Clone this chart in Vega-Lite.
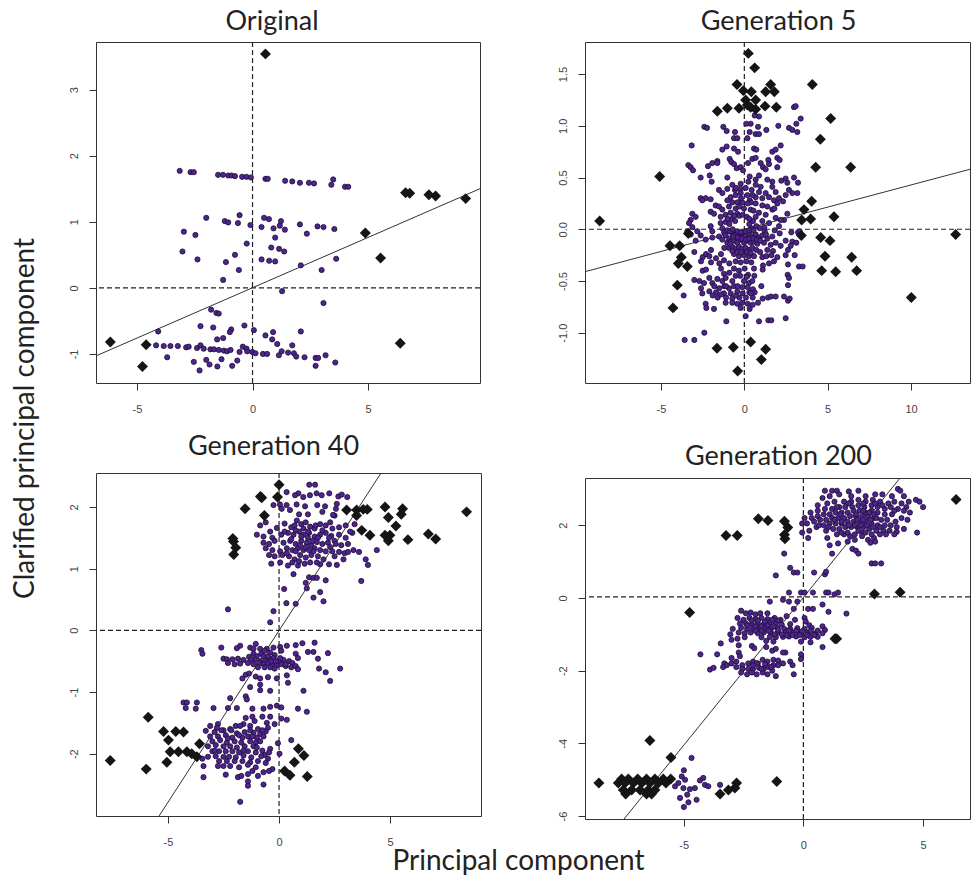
{"$schema":"https://vega.github.io/schema/vega-lite/v6.json","padding":{"left":10,"top":7,"right":0,"bottom":0},"background":"white","title":{"text":"Principal component","orient":"bottom","anchor":"start","dx":382,"offset":-3,"fontSize":28},"config":{"locale":{"number":{"decimal":".","thousands":",","grouping":[3],"currency":["$",""],"minus":"-"}},"view":{"stroke":"#333","strokeWidth":1},"axis":{"grid":false,"domain":false,"tickColor":"#333","tickSize":7,"labelColor":"#444","labelFont":"Liberation Sans","labelFontSize":11,"titleFont":"Lato","titleFontWeight":"normal","titleFontSize":28,"titleColor":"#222"},"title":{"font":"Lato","fontSize":27,"fontWeight":"normal","color":"#222"}},
"datasets":{
"p1":[{"x":-3.15,"y":1.77},{"x":-2.68,"y":1.75},{"x":-2.54,"y":1.75},{"x":-1.49,"y":1.71},{"x":-1.28,"y":1.71},{"x":-1.05,"y":1.7},{"x":-0.91,"y":1.7},{"x":-0.76,"y":1.69},{"x":-0.45,"y":1.68},{"x":-0.26,"y":1.68},{"x":-0.07,"y":1.67},{"x":0.56,"y":1.65},{"x":0.66,"y":1.65},{"x":1.41,"y":1.62},{"x":1.72,"y":1.61},{"x":2.05,"y":1.59},{"x":2.44,"y":1.59},{"x":2.66,"y":1.58},{"x":3.41,"y":1.56},{"x":3.49,"y":1.64},{"x":4,"y":1.53},{"x":4.14,"y":1.53},{"x":-0.56,"y":1.1},{"x":-2,"y":1.06},{"x":-1.2,"y":1.01},{"x":-1.05,"y":0.99},{"x":-0.63,"y":0.98},{"x":-0.09,"y":0.95},{"x":0.5,"y":1.06},{"x":0.71,"y":1.04},{"x":1.23,"y":1.01},{"x":1.18,"y":0.94},{"x":0.39,"y":0.92},{"x":0.91,"y":0.9},{"x":1.4,"y":0.88},{"x":2.05,"y":0.96},{"x":2.81,"y":0.93},{"x":3.07,"y":0.92},{"x":3.54,"y":0.89},{"x":2.35,"y":0.82},{"x":-2.97,"y":0.85},{"x":-2.47,"y":0.8},{"x":0.98,"y":0.76},{"x":-0.25,"y":0.67},{"x":0.81,"y":0.61},{"x":1.15,"y":0.59},{"x":1.37,"y":0.55},{"x":-3.03,"y":0.55},{"x":-0.76,"y":0.5},{"x":-2.38,"y":0.43},{"x":-1.15,"y":0.39},{"x":0.39,"y":0.43},{"x":0.72,"y":0.41},{"x":0.98,"y":0.4},{"x":3.62,"y":0.44},{"x":2.09,"y":0.34},{"x":2.99,"y":0.27},{"x":-0.59,"y":0.27},{"x":-1.27,"y":0.12},{"x":1.28,"y":-0.05},{"x":3.07,"y":-0.23},{"x":-1.79,"y":-0.33},{"x":-1.56,"y":-0.38},{"x":-1.46,"y":-0.39},{"x":-2.25,"y":-0.58},{"x":-1.7,"y":-0.6},{"x":-0.35,"y":-0.57},{"x":-0.92,"y":-0.63},{"x":-0.98,"y":-0.67},{"x":-4.08,"y":-0.66},{"x":0.06,"y":-0.64},{"x":0.89,"y":-0.67},{"x":0.56,"y":-0.72},{"x":2.09,"y":-0.66},{"x":0.85,"y":-0.78},{"x":-1.27,"y":-0.76},{"x":-1.53,"y":-0.78},{"x":1.07,"y":-0.85},{"x":1.72,"y":-0.87},{"x":-4.17,"y":-0.87},{"x":-3.84,"y":-0.88},{"x":-3.55,"y":-0.88},{"x":-3.23,"y":-0.88},{"x":-2.87,"y":-0.9},{"x":-2.76,"y":-0.89},{"x":-2.4,"y":-0.91},{"x":-2.25,"y":-0.87},{"x":-2.11,"y":-0.92},{"x":-1.82,"y":-0.93},{"x":-1.67,"y":-0.93},{"x":-1.46,"y":-0.94},{"x":-1.24,"y":-0.95},{"x":-1.1,"y":-0.96},{"x":-0.95,"y":-0.94},{"x":-0.56,"y":-0.97},{"x":-0.42,"y":-0.89},{"x":-0.26,"y":-0.92},{"x":-0.23,"y":-0.96},{"x":-0.01,"y":-0.97},{"x":0.13,"y":-0.99},{"x":0.45,"y":-1},{"x":0.63,"y":-1},{"x":1.14,"y":-1.02},{"x":1.26,"y":-0.96},{"x":1.54,"y":-0.98},{"x":1.79,"y":-0.99},{"x":1.89,"y":-1.04},{"x":2.25,"y":-1.05},{"x":2.73,"y":-1.06},{"x":2.84,"y":-1.06},{"x":3.16,"y":-1.02},{"x":-3.69,"y":-1.05},{"x":-2.54,"y":-1.12},{"x":-2,"y":-1.09},{"x":-1.86,"y":-1.16},{"x":-1.34,"y":-1.08},{"x":-1.52,"y":-1.19},{"x":-0.88,"y":-1.18},{"x":-0.66,"y":-1.1},{"x":-2.29,"y":-1.25},{"x":2.73,"y":-1.18},{"x":3.58,"y":-1.13}],
"d1":[{"x":0.56,"y":3.54},{"x":6.62,"y":1.44},{"x":6.8,"y":1.43},{"x":7.63,"y":1.41},{"x":7.92,"y":1.39},{"x":9.22,"y":1.35},{"x":4.88,"y":0.83},{"x":5.54,"y":0.45},{"x":6.39,"y":-0.84},{"x":-6.15,"y":-0.82},{"x":-4.6,"y":-0.86},{"x":-4.76,"y":-1.19}],
"l1":[{"x":-6.77,"y":-1.03},{"x":9.84,"y":1.5}],
"p2":[{"x":-2.4,"y":0.99},{"x":-2.24,"y":0.98},{"x":-1.26,"y":0.99},{"x":-1.06,"y":0.95},{"x":-0.56,"y":0.94},{"x":-0.62,"y":0.88},{"x":-0.42,"y":0.88},{"x":0.18,"y":0.88},{"x":0.32,"y":0.94},{"x":0.38,"y":1.02},{"x":0.82,"y":0.99},{"x":0.68,"y":0.92},{"x":0.88,"y":0.92},{"x":1.32,"y":0.96},{"x":2.04,"y":1},{"x":2.68,"y":0.98},{"x":2.88,"y":0.96},{"x":3.18,"y":0.94},{"x":3.12,"y":1.02},{"x":3.38,"y":1.07},{"x":2.98,"y":1.18},{"x":3.08,"y":1.19},{"x":0.88,"y":1.09},{"x":-3.16,"y":0.81},{"x":-1.32,"y":0.77},{"x":-1.06,"y":0.8},{"x":-0.62,"y":0.78},{"x":-0.38,"y":0.75},{"x":0.58,"y":0.78},{"x":0.72,"y":0.77},{"x":1.68,"y":0.75},{"x":1.88,"y":0.77},{"x":2.18,"y":0.81},{"x":-3.36,"y":0.62},{"x":-3.22,"y":0.6},{"x":-3.08,"y":0.57},{"x":-2.18,"y":0.61},{"x":-1.92,"y":0.64},{"x":-1.62,"y":0.66},{"x":-1.62,"y":0.64},{"x":-0.88,"y":0.68},{"x":-0.78,"y":0.65},{"x":-0.62,"y":0.63},{"x":-0.46,"y":0.59},{"x":-0.22,"y":0.6},{"x":-0.08,"y":0.57},{"x":0.22,"y":0.64},{"x":0.48,"y":0.68},{"x":0.68,"y":0.69},{"x":0.98,"y":0.64},{"x":1.12,"y":0.6},{"x":1.44,"y":0.67},{"x":1.48,"y":0.63},{"x":1.98,"y":0.69},{"x":2.12,"y":0.67},{"x":1.28,"y":0.58},{"x":1.98,"y":0.6},{"x":-2.62,"y":0.5},{"x":-2.08,"y":0.52},{"x":-1.96,"y":0.46},{"x":-1.02,"y":0.5},{"x":0.32,"y":0.51},{"x":0.88,"y":0.52},{"x":0.68,"y":0.48},{"x":1.38,"y":0.48},{"x":1.68,"y":0.46},{"x":2.22,"y":0.47},{"x":2.48,"y":0.49},{"x":2.58,"y":0.45},{"x":2.98,"y":0.5},{"x":3.22,"y":0.45},{"x":-0.72,"y":0.43},{"x":-0.22,"y":0.44},{"x":0.24,"y":0.46},{"x":0.68,"y":0.43},{"x":0.98,"y":0.41},{"x":1.68,"y":0.41},{"x":-0.56,"y":0.38},{"x":-1.52,"y":0.38},{"x":-1.02,"y":0.39},{"x":-0.22,"y":0.39},{"x":0.08,"y":0.4},{"x":0.44,"y":0.38},{"x":0.88,"y":0.36},{"x":1.28,"y":0.35},{"x":1.88,"y":0.36},{"x":2.68,"y":0.38},{"x":2.88,"y":0.35},{"x":3.18,"y":0.35},{"x":-2.62,"y":0.3},{"x":-2.32,"y":0.3},{"x":-2.02,"y":0.29},{"x":-1.32,"y":0.35},{"x":-0.82,"y":0.31},{"x":-0.52,"y":0.33},{"x":-0.22,"y":0.35},{"x":0.18,"y":0.33},{"x":0.68,"y":0.31},{"x":1.08,"y":0.3},{"x":1.48,"y":0.31},{"x":1.78,"y":0.28},{"x":2.08,"y":0.3},{"x":2.48,"y":0.33},{"x":2.32,"y":0.27},{"x":1.98,"y":0.25},{"x":-2.52,"y":0.28},{"x":-1.72,"y":0.23},{"x":-1.52,"y":0.22},{"x":-1.02,"y":0.28},{"x":-0.72,"y":0.26},{"x":-0.42,"y":0.26},{"x":-0.12,"y":0.26},{"x":0.32,"y":0.28},{"x":0.68,"y":0.25},{"x":1.08,"y":0.23},{"x":1.38,"y":0.22},{"x":1.68,"y":0.19},{"x":2.58,"y":0.15},{"x":-3.12,"y":0.15},{"x":-3.22,"y":0.09},{"x":-3.32,"y":0.06},{"x":-2.92,"y":0.12},{"x":-2.02,"y":0.17},{"x":-1.82,"y":0.15},{"x":-1.32,"y":0.19},{"x":-0.92,"y":0.22},{"x":-0.52,"y":0.2},{"x":-0.02,"y":0.2},{"x":0.38,"y":0.19},{"x":0.88,"y":0.16},{"x":1.28,"y":0.14},{"x":1.88,"y":0.11},{"x":2.38,"y":0.09},{"x":-1.42,"y":0.12},{"x":-1.12,"y":0.14},{"x":-0.82,"y":0.16},{"x":-0.42,"y":0.15},{"x":0.68,"y":0.12},{"x":1.08,"y":0.08},{"x":1.48,"y":0.06},{"x":2.08,"y":0.03},{"x":2.18,"y":0.09},{"x":-3.12,"y":0.02},{"x":-3.42,"y":-0.02},{"x":-3.22,"y":-0.05},{"x":-2.82,"y":-0.02},{"x":-2.62,"y":-0.06},{"x":-2.02,"y":0.03},{"x":-1.92,"y":-0.02},{"x":-1.42,"y":0.06},{"x":-1.32,"y":0.01},{"x":-1.22,"y":-0.03},{"x":-1.12,"y":0.07},{"x":-1.02,"y":-0.01},{"x":0.52,"y":0.08},{"x":0.72,"y":0.03},{"x":0.42,"y":0.01},{"x":0.92,"y":0.01},{"x":1.22,"y":-0.02},{"x":1.82,"y":-0.01},{"x":2.12,"y":-0.04},{"x":2.82,"y":-0.03},{"x":3.22,"y":-0.03},{"x":3.32,"y":-0.02},{"x":-2.32,"y":-0.1},{"x":-1.92,"y":-0.08},{"x":-1.52,"y":-0.07},{"x":-1.32,"y":-0.1},{"x":-1.12,"y":-0.06},{"x":-0.92,"y":-0.09},{"x":-0.72,"y":-0.04},{"x":-0.52,"y":-0.05},{"x":-0.32,"y":-0.07},{"x":-0.12,"y":-0.04},{"x":0.08,"y":-0.06},{"x":0.28,"y":-0.04},{"x":0.48,"y":-0.07},{"x":0.68,"y":-0.05},{"x":0.88,"y":-0.08},{"x":1.08,"y":-0.06},{"x":1.38,"y":-0.09},{"x":1.68,"y":-0.07},{"x":2.48,"y":-0.11},{"x":2.88,"y":-0.12},{"x":3.12,"y":-0.13},{"x":-2.92,"y":-0.11},{"x":-1.02,"y":-0.13},{"x":-0.82,"y":-0.12},{"x":-0.62,"y":-0.11},{"x":-0.42,"y":-0.13},{"x":-0.22,"y":-0.1},{"x":-0.02,"y":-0.13},{"x":0.18,"y":-0.11},{"x":0.38,"y":-0.13},{"x":0.58,"y":-0.12},{"x":0.78,"y":-0.14},{"x":1.18,"y":-0.13},{"x":1.58,"y":-0.15},{"x":1.88,"y":-0.13},{"x":2.18,"y":-0.16},{"x":2.78,"y":-0.16},{"x":-0.92,"y":-0.18},{"x":-0.72,"y":-0.17},{"x":-0.52,"y":-0.19},{"x":-0.32,"y":-0.17},{"x":-0.12,"y":-0.19},{"x":0.08,"y":-0.18},{"x":0.28,"y":-0.2},{"x":0.48,"y":-0.18},{"x":0.72,"y":-0.2},{"x":1.38,"y":-0.2},{"x":1.72,"y":-0.21},{"x":2.62,"y":-0.2},{"x":3.02,"y":-0.25},{"x":-3,"y":-0.22},{"x":-2.5,"y":-0.27},{"x":-2.3,"y":-0.24},{"x":-2.1,"y":-0.26},{"x":-1.7,"y":-0.28},{"x":-1.4,"y":-0.24},{"x":-0.62,"y":-0.24},{"x":-0.32,"y":-0.26},{"x":-0.02,"y":-0.25},{"x":0.28,"y":-0.26},{"x":0.58,"y":-0.26},{"x":1.08,"y":-0.27},{"x":1.32,"y":-0.26},{"x":1.62,"y":-0.25},{"x":1.98,"y":-0.27},{"x":2.48,"y":-0.25},{"x":-2.6,"y":-0.31},{"x":-2,"y":-0.32},{"x":-1.5,"y":-0.33},{"x":-1.22,"y":-0.3},{"x":-0.9,"y":-0.33},{"x":-0.52,"y":-0.31},{"x":-0.22,"y":-0.32},{"x":0.12,"y":-0.31},{"x":0.42,"y":-0.32},{"x":1.12,"y":-0.35},{"x":1.48,"y":-0.33},{"x":1.78,"y":-0.31},{"x":2.62,"y":-0.34},{"x":3.28,"y":-0.36},{"x":3.5,"y":-0.36},{"x":-2.5,"y":-0.4},{"x":-2.3,"y":-0.39},{"x":-1.4,"y":-0.38},{"x":-0.62,"y":-0.38},{"x":-0.32,"y":-0.4},{"x":0.02,"y":-0.38},{"x":0.58,"y":-0.38},{"x":1.1,"y":-0.39},{"x":2.6,"y":-0.44},{"x":2.68,"y":-0.47},{"x":-1.22,"y":-0.43},{"x":-0.9,"y":-0.42},{"x":-0.52,"y":-0.45},{"x":0.22,"y":-0.44},{"x":0.6,"y":-0.45},{"x":-2.1,"y":-0.47},{"x":-3,"y":-0.49},{"x":-2.7,"y":-0.5},{"x":-2.42,"y":-0.52},{"x":-1.92,"y":-0.52},{"x":-1.62,"y":-0.48},{"x":-1.32,"y":-0.5},{"x":-1.12,"y":-0.47},{"x":-0.72,"y":-0.5},{"x":-0.02,"y":-0.5},{"x":0.28,"y":-0.52},{"x":0.48,"y":-0.5},{"x":2.62,"y":-0.54},{"x":-2.6,"y":-0.57},{"x":-1.8,"y":-0.55},{"x":-1.5,"y":-0.57},{"x":-1.2,"y":-0.55},{"x":-0.92,"y":-0.57},{"x":-0.62,"y":-0.55},{"x":-0.12,"y":-0.56},{"x":0.2,"y":-0.56},{"x":0.52,"y":-0.58},{"x":1.02,"y":-0.55},{"x":-2.52,"y":-0.62},{"x":-2.1,"y":-0.6},{"x":-1.7,"y":-0.61},{"x":-1.22,"y":-0.62},{"x":-0.82,"y":-0.62},{"x":-0.42,"y":-0.6},{"x":-0.1,"y":-0.62},{"x":0.3,"y":-0.61},{"x":0.62,"y":-0.61},{"x":1.42,"y":-0.66},{"x":1.6,"y":-0.65},{"x":1.88,"y":-0.65},{"x":2.38,"y":-0.65},{"x":-3.64,"y":-0.64},{"x":-1.6,"y":-0.66},{"x":-1.1,"y":-0.66},{"x":-0.72,"y":-0.67},{"x":-0.3,"y":-0.66},{"x":0.1,"y":-0.66},{"x":0.5,"y":-0.66},{"x":1.1,"y":-0.67},{"x":2.62,"y":-0.69},{"x":2.72,"y":-0.67},{"x":-2.32,"y":-0.72},{"x":-2.28,"y":-0.76},{"x":-1.82,"y":-0.77},{"x":-1.12,"y":-0.71},{"x":-0.72,"y":-0.71},{"x":-0.42,"y":-0.72},{"x":-0.12,"y":-0.71},{"x":0.2,"y":-0.72},{"x":0.5,"y":-0.73},{"x":0.82,"y":-0.71},{"x":-0.22,"y":-0.76},{"x":0.32,"y":-0.77},{"x":0.08,"y":-0.84},{"x":-1.08,"y":-0.89},{"x":0.88,"y":-0.89},{"x":1.44,"y":-0.88},{"x":1.62,"y":-0.88},{"x":2.48,"y":-0.86},{"x":-2.4,"y":-1},{"x":-3.58,"y":-1.07},{"x":-3,"y":-1.07},{"x":0.62,"y":1.1},{"x":0.12,"y":1.02},{"x":-0.9,"y":0.05},{"x":-0.75,"y":0.1},{"x":-0.55,"y":0.08},{"x":-1,"y":0.1},{"x":-0.6,"y":0.13},{"x":-0.3,"y":0.13},{"x":-0.1,"y":0.14},{"x":0.15,"y":0.12},{"x":0.3,"y":0.1},{"x":0.3,"y":0.05},{"x":-0.85,"y":-0.02},{"x":-0.7,"y":0},{"x":-0.85,"y":-0.14},{"x":-0.65,"y":-0.07},{"x":-0.4,"y":-0.02},{"x":-0.2,"y":-0.03},{"x":0.1,"y":-0.02},{"x":0.3,"y":-0.01},{"x":0.55,"y":-0.01},{"x":-0.4,"y":-0.08},{"x":-0.15,"y":-0.09},{"x":0.1,"y":-0.1},{"x":0.3,"y":-0.09},{"x":0.55,"y":-0.09},{"x":0.75,"y":-0.1},{"x":0.95,"y":-0.11},{"x":1.3,"y":-0.05},{"x":-0.72,"y":-0.21},{"x":-0.42,"y":-0.22},{"x":-0.2,"y":-0.22},{"x":0.15,"y":-0.22},{"x":0.38,"y":-0.23},{"x":0.95,"y":-0.22},{"x":-0.2,"y":0.3},{"x":0.4,"y":0.26},{"x":0.5,"y":0.33},{"x":-0.5,"y":0.4},{"x":0.2,"y":0.25},{"x":0.55,"y":0.18},{"x":-0.3,"y":0.22},{"x":-2,"y":-0.2},{"x":-1.2,"y":-0.18},{"x":1.2,"y":0.02},{"x":1.8,"y":0.2},{"x":-1.1,"y":-0.55},{"x":-0.4,"y":-0.55},{"x":-0.5,"y":-0.64},{"x":-1.4,"y":-0.63},{"x":-1.9,"y":-0.64},{"x":0.15,"y":-0.46},{"x":0.4,"y":-0.62},{"x":-0.25,"y":-0.45}],
"d2":[{"x":0.24,"y":1.7},{"x":0.62,"y":1.56},{"x":-0.44,"y":1.4},{"x":1.58,"y":1.4},{"x":4.08,"y":1.4},{"x":-0.06,"y":1.34},{"x":0.42,"y":1.33},{"x":1.28,"y":1.33},{"x":1.8,"y":1.33},{"x":0.08,"y":1.25},{"x":0.68,"y":1.25},{"x":0.18,"y":1.2},{"x":0.38,"y":1.18},{"x":0.68,"y":1.16},{"x":1.24,"y":1.19},{"x":1.92,"y":1.18},{"x":-1.02,"y":1.17},{"x":-1.62,"y":1.14},{"x":-0.32,"y":1.17},{"x":5.18,"y":1.07},{"x":4.56,"y":0.87},{"x":4.28,"y":0.6},{"x":6.38,"y":0.6},{"x":-5.08,"y":0.51},{"x":4.04,"y":0.27},{"x":3.58,"y":0.19},{"x":-8.68,"y":0.08},{"x":5.38,"y":0.12},{"x":3.98,"y":0.1},{"x":3.44,"y":0.09},{"x":-3.36,"y":-0.04},{"x":3.42,"y":-0.06},{"x":4.58,"y":-0.08},{"x":5.14,"y":-0.11},{"x":12.68,"y":-0.05},{"x":-4.46,"y":-0.16},{"x":-3.88,"y":-0.16},{"x":-3.78,"y":-0.27},{"x":-3.96,"y":-0.33},{"x":-3.42,"y":-0.36},{"x":4.84,"y":-0.26},{"x":6.44,"y":-0.27},{"x":4.64,"y":-0.4},{"x":5.48,"y":-0.41},{"x":6.74,"y":-0.4},{"x":-4.02,"y":-0.54},{"x":-4.28,"y":-0.76},{"x":10.02,"y":-0.66},{"x":0.38,"y":-1.09},{"x":-1.64,"y":-1.15},{"x":-0.66,"y":-1.14},{"x":1.28,"y":-1.16},{"x":1.02,"y":-1.26},{"x":-0.4,"y":-1.37}],
"l2":[{"x":-9.56,"y":-0.41},{"x":13.54,"y":0.58}],
"p3":[{"x":1.36,"y":2.36},{"x":1.62,"y":2.36},{"x":0.34,"y":2.24},{"x":0.87,"y":2.22},{"x":0.72,"y":2.19},{"x":1.09,"y":2.16},{"x":1.39,"y":2.19},{"x":1.69,"y":2.22},{"x":1.92,"y":2.19},{"x":2.26,"y":2.22},{"x":2.67,"y":2.17},{"x":2.82,"y":2.2},{"x":3.07,"y":2.16},{"x":-0.25,"y":2.03},{"x":0.04,"y":2.04},{"x":0.34,"y":2.03},{"x":0.79,"y":2.04},{"x":1.17,"y":2.01},{"x":1.72,"y":2.03},{"x":2.07,"y":2.01},{"x":2.6,"y":2.05},{"x":2.56,"y":1.97},{"x":0.49,"y":1.95},{"x":0.12,"y":1.97},{"x":0.9,"y":1.88},{"x":1.3,"y":1.88},{"x":1.95,"y":1.92},{"x":2.5,"y":1.86},{"x":2.43,"y":1.87},{"x":-0.85,"y":1.7},{"x":-0.6,"y":1.75},{"x":-0.1,"y":1.66},{"x":0.25,"y":1.73},{"x":0.55,"y":1.67},{"x":0.8,"y":1.78},{"x":1,"y":1.72},{"x":1.2,"y":1.75},{"x":1.4,"y":1.68},{"x":1.6,"y":1.65},{"x":1.85,"y":1.72},{"x":2.1,"y":1.7},{"x":2.4,"y":1.65},{"x":2.7,"y":1.67},{"x":3,"y":1.7},{"x":3.4,"y":1.72},{"x":-1,"y":1.55},{"x":-0.7,"y":1.52},{"x":-0.3,"y":1.5},{"x":0.1,"y":1.55},{"x":0.4,"y":1.58},{"x":0.65,"y":1.55},{"x":0.9,"y":1.6},{"x":1.1,"y":1.55},{"x":1.35,"y":1.58},{"x":1.6,"y":1.52},{"x":1.85,"y":1.55},{"x":2.1,"y":1.58},{"x":2.35,"y":1.53},{"x":2.7,"y":1.55},{"x":3,"y":1.5},{"x":3.3,"y":1.58},{"x":-0.7,"y":1.42},{"x":-0.45,"y":1.4},{"x":-0.2,"y":1.45},{"x":0.2,"y":1.42},{"x":0.5,"y":1.45},{"x":0.75,"y":1.4},{"x":1,"y":1.45},{"x":1.25,"y":1.42},{"x":1.45,"y":1.38},{"x":1.7,"y":1.43},{"x":1.95,"y":1.4},{"x":2.2,"y":1.42},{"x":2.5,"y":1.45},{"x":2.8,"y":1.38},{"x":3.1,"y":1.4},{"x":-0.6,"y":1.33},{"x":-0.3,"y":1.3},{"x":0.05,"y":1.28},{"x":0.35,"y":1.33},{"x":0.6,"y":1.3},{"x":0.85,"y":1.33},{"x":1.1,"y":1.3},{"x":1.35,"y":1.3},{"x":1.6,"y":1.33},{"x":1.85,"y":1.3},{"x":2.1,"y":1.28},{"x":2.4,"y":1.28},{"x":2.7,"y":1.27},{"x":3.35,"y":1.3},{"x":3.6,"y":1.27},{"x":4.4,"y":1.3},{"x":-0.2,"y":1.2},{"x":0.15,"y":1.22},{"x":0.45,"y":1.2},{"x":0.7,"y":1.15},{"x":0.95,"y":1.22},{"x":1.2,"y":1.18},{"x":1.45,"y":1.22},{"x":1.75,"y":1.2},{"x":2,"y":1.15},{"x":2.5,"y":1.2},{"x":2.95,"y":1.25},{"x":3.9,"y":1.15},{"x":-0.35,"y":1.08},{"x":0.05,"y":1.1},{"x":0.4,"y":1.05},{"x":0.6,"y":1.1},{"x":0.85,"y":1.05},{"x":1.15,"y":1.08},{"x":1.4,"y":1.1},{"x":1.85,"y":1.07},{"x":2.25,"y":1.07},{"x":2.6,"y":1.06},{"x":4,"y":1.06},{"x":0.65,"y":0.91},{"x":1.35,"y":0.86},{"x":1.55,"y":0.85},{"x":1.7,"y":0.85},{"x":2.1,"y":0.81},{"x":3.7,"y":0.8},{"x":1.2,"y":0.77},{"x":1.25,"y":0.68},{"x":0.23,"y":0.67},{"x":1.85,"y":0.62},{"x":1.55,"y":0.53},{"x":2,"y":0.47},{"x":0.33,"y":0.44},{"x":0.75,"y":0.43},{"x":-2.3,"y":0.34},{"x":-0.25,"y":0.31},{"x":-0.4,"y":0.13},{"x":-2.6,"y":-0.28},{"x":-1.05,"y":-0.22},{"x":-1.75,"y":-0.25},{"x":-3.5,"y":-0.32},{"x":-3.45,"y":-0.38},{"x":-1.9,"y":-0.29},{"x":-1.3,"y":-0.28},{"x":-1.15,"y":-0.3},{"x":-0.85,"y":-0.3},{"x":-0.55,"y":-0.3},{"x":-0.25,"y":-0.28},{"x":0.05,"y":-0.27},{"x":0.35,"y":-0.25},{"x":0.75,"y":-0.24},{"x":1.05,"y":-0.21},{"x":1.6,"y":-0.2},{"x":0.75,"y":-0.38},{"x":1.3,"y":-0.35},{"x":1.55,"y":-0.35},{"x":2.2,"y":-0.37},{"x":0.85,"y":-0.45},{"x":1.75,"y":-0.46},{"x":2.75,"y":-0.62},{"x":1.8,"y":-0.62},{"x":2.1,"y":-0.68},{"x":2.3,"y":-0.82},{"x":-2.5,"y":-0.46},{"x":-2.35,"y":-0.47},{"x":-2.1,"y":-0.47},{"x":-1.85,"y":-0.46},{"x":-1.6,"y":-0.48},{"x":-1.35,"y":-0.43},{"x":-1.15,"y":-0.38},{"x":-1,"y":-0.42},{"x":-0.8,"y":-0.38},{"x":-0.65,"y":-0.33},{"x":-0.4,"y":-0.36},{"x":-0.2,"y":-0.4},{"x":0.1,"y":-0.33},{"x":-0.85,"y":-0.5},{"x":-0.6,"y":-0.48},{"x":-0.45,"y":-0.46},{"x":-0.25,"y":-0.45},{"x":-0.05,"y":-0.5},{"x":0.2,"y":-0.48},{"x":0.45,"y":-0.5},{"x":0.6,"y":-0.53},{"x":-2.3,"y":-0.53},{"x":-2,"y":-0.55},{"x":-1.75,"y":-0.54},{"x":-1.4,"y":-0.53},{"x":-1.15,"y":-0.55},{"x":-0.9,"y":-0.53},{"x":-0.7,"y":-0.55},{"x":-0.5,"y":-0.53},{"x":-0.3,"y":-0.55},{"x":-0.1,"y":-0.57},{"x":0.1,"y":-0.55},{"x":0.3,"y":-0.58},{"x":0.55,"y":-0.6},{"x":0.75,"y":-0.58},{"x":0.85,"y":-0.63},{"x":-1.5,"y":-0.72},{"x":-1.65,"y":-0.78},{"x":-1.35,"y":-0.7},{"x":-1.05,"y":-0.75},{"x":-0.85,"y":-0.78},{"x":-0.5,"y":-0.76},{"x":-0.1,"y":-0.78},{"x":0.35,"y":-0.73},{"x":-1.3,"y":-0.92},{"x":-0.85,"y":-0.97},{"x":-0.85,"y":-0.88},{"x":-0.4,"y":-0.98},{"x":0.4,"y":-0.85},{"x":1.1,"y":-0.98},{"x":-2.2,"y":-1.1},{"x":-1.5,"y":-1.07},{"x":-1.45,"y":-1.12},{"x":-4.3,"y":-1.17},{"x":-4.15,"y":-1.17},{"x":-4.2,"y":-1.26},{"x":-3.7,"y":-1.17},{"x":-3.75,"y":-1.27},{"x":-2.95,"y":-1.26},{"x":-2.3,"y":-1.26},{"x":-1.9,"y":-1.26},{"x":-1.2,"y":-1.27},{"x":-0.7,"y":-1.27},{"x":-0.4,"y":-1.24},{"x":-0.1,"y":-1.22},{"x":0.1,"y":-1.25},{"x":0.85,"y":-1.27},{"x":1.25,"y":-1.32},{"x":-1.2,"y":-1.4},{"x":-0.75,"y":-1.4},{"x":-0.4,"y":-1.4},{"x":0.1,"y":-1.43},{"x":0.35,"y":-1.45},{"x":-2.75,"y":-1.52},{"x":-1.6,"y":-1.52},{"x":-1.1,"y":-1.47},{"x":-0.55,"y":-1.5},{"x":-0.2,"y":-1.52},{"x":-3.1,"y":-1.55},{"x":-2.8,"y":-1.58},{"x":-1.95,"y":-1.55},{"x":-1.3,"y":-1.55},{"x":-0.95,"y":-1.6},{"x":-0.5,"y":-1.58},{"x":-3.3,"y":-1.63},{"x":-2.9,"y":-1.65},{"x":-2.5,"y":-1.62},{"x":-2.2,"y":-1.6},{"x":-1.9,"y":-1.67},{"x":-1.55,"y":-1.65},{"x":-1.15,"y":-1.66},{"x":-0.85,"y":-1.68},{"x":-0.6,"y":-1.64},{"x":0.55,"y":-1.78},{"x":-3.1,"y":-1.72},{"x":-2.75,"y":-1.72},{"x":-2.4,"y":-1.7},{"x":-2.1,"y":-1.74},{"x":-1.65,"y":-1.74},{"x":-1.4,"y":-1.72},{"x":-1,"y":-1.74},{"x":-0.7,"y":-1.72},{"x":-3,"y":-1.8},{"x":-2.65,"y":-1.78},{"x":-2.35,"y":-1.82},{"x":-2,"y":-1.8},{"x":-1.7,"y":-1.82},{"x":-1.3,"y":-1.8},{"x":-1.05,"y":-1.82},{"x":-0.85,"y":-1.8},{"x":-0.05,"y":-1.83},{"x":-3.2,"y":-1.88},{"x":-2.85,"y":-1.86},{"x":-2.5,"y":-1.88},{"x":-2.2,"y":-1.88},{"x":-1.9,"y":-1.9},{"x":-1.55,"y":-1.88},{"x":-1.15,"y":-1.88},{"x":-0.4,"y":-1.92},{"x":-0.45,"y":-1.98},{"x":-3,"y":-1.96},{"x":-2.7,"y":-1.96},{"x":-2.4,"y":-1.96},{"x":-2.1,"y":-1.96},{"x":-1.8,"y":-1.98},{"x":-1.4,"y":-1.96},{"x":-1.05,"y":-1.98},{"x":-0.65,"y":-2.02},{"x":0.02,"y":-2},{"x":-3.2,"y":-2.05},{"x":-2.85,"y":-2.04},{"x":-2.5,"y":-2.05},{"x":-2.25,"y":-2.05},{"x":-1.95,"y":-2.06},{"x":-1.6,"y":-2.03},{"x":-1.25,"y":-2.06},{"x":-0.8,"y":-2.04},{"x":-0.5,"y":-2.08},{"x":-3.45,"y":-2.08},{"x":-2.7,"y":-2.12},{"x":-2.35,"y":-2.12},{"x":-2,"y":-2.12},{"x":-1.65,"y":-2.12},{"x":-1.3,"y":-2.14},{"x":-0.95,"y":-2.12},{"x":-0.6,"y":-2.15},{"x":-3.4,"y":-2.2},{"x":-2.75,"y":-2.2},{"x":-1.8,"y":-2.22},{"x":-1.4,"y":-2.18},{"x":-1.05,"y":-2.22},{"x":-0.3,"y":-2.25},{"x":-0.45,"y":-2.28},{"x":-0.7,"y":-2.3},{"x":-3.4,"y":-2.38},{"x":-2.4,"y":-2.34},{"x":-1.85,"y":-2.38},{"x":-1.7,"y":-2.36},{"x":-1.4,"y":-2.33},{"x":-1.2,"y":-2.28},{"x":-0.95,"y":-2.36},{"x":-1.4,"y":-2.45},{"x":-1.4,"y":-2.52},{"x":-0.7,"y":-2.5},{"x":-1.75,"y":-2.78},{"x":0.7,"y":1.7},{"x":1.1,"y":1.65},{"x":1.3,"y":1.6},{"x":0.75,"y":1.62},{"x":1,"y":1.52},{"x":1.5,"y":1.45},{"x":1.75,"y":1.5},{"x":1.95,"y":1.62},{"x":1.3,"y":1.5},{"x":0.55,"y":1.48},{"x":0.95,"y":1.38},{"x":1.2,"y":1.35},{"x":1.55,"y":1.28},{"x":0.75,"y":1.28},{"x":0.25,"y":1.6},{"x":-0.4,"y":1.6},{"x":2.25,"y":1.5},{"x":2.55,"y":1.4},{"x":2.3,"y":1.35},{"x":1.65,"y":1.7},{"x":2.3,"y":1.75},{"x":0.35,"y":1.25},{"x":0.9,"y":1.12},{"x":1.7,"y":1.1},{"x":-0.45,"y":1.22},{"x":3.1,"y":1.27},{"x":3.2,"y":1.6},{"x":2.9,"y":1.15},{"x":-2.3,"y":-1.75},{"x":-1.8,"y":-1.7},{"x":-2.6,"y":-1.62},{"x":-1.75,"y":-1.55},{"x":-1.5,"y":-1.42},{"x":-2.15,"y":-1.62},{"x":-1.3,"y":-1.62},{"x":-0.75,"y":-1.62},{"x":-2.5,"y":-2.2},{"x":-2.2,"y":-2.2},{"x":-2.9,"y":-1.95},{"x":-1.6,"y":-1.95},{"x":-1.2,"y":-1.72},{"x":-1,"y":-1.9},{"x":-0.75,"y":-1.95},{"x":-1.1,"y":-0.47},{"x":-0.95,"y":-0.6},{"x":-0.65,"y":-0.6},{"x":-0.4,"y":-0.6},{"x":-0.2,"y":-0.62},{"x":-1.25,"y":-0.47},{"x":-0.7,"y":-0.42},{"x":-0.5,"y":-0.42},{"x":-0.35,"y":-0.5},{"x":-0.15,"y":-0.5},{"x":0.05,"y":-0.45},{"x":0.3,"y":-0.55}],
"d3":[{"x":0,"y":2.36},{"x":-0.84,"y":2.17},{"x":-0.78,"y":2.15},{"x":-0.07,"y":2.16},{"x":-1.53,"y":1.97},{"x":-0.66,"y":1.86},{"x":-2.08,"y":1.49},{"x":-2.05,"y":1.44},{"x":-1.95,"y":1.34},{"x":-2.04,"y":1.23},{"x":4.77,"y":2},{"x":5.56,"y":1.97},{"x":5.5,"y":1.88},{"x":4.92,"y":1.83},{"x":8.44,"y":1.92},{"x":3.04,"y":1.95},{"x":3.49,"y":1.95},{"x":3.79,"y":1.96},{"x":3.97,"y":1.96},{"x":3.49,"y":1.86},{"x":5.26,"y":1.69},{"x":3.72,"y":1.62},{"x":4.09,"y":1.54},{"x":4.77,"y":1.54},{"x":4.99,"y":1.54},{"x":4.92,"y":1.45},{"x":5.8,"y":1.47},{"x":6.72,"y":1.56},{"x":7.05,"y":1.48},{"x":-5.89,"y":-1.41},{"x":-5.2,"y":-1.64},{"x":-4.65,"y":-1.64},{"x":-4.3,"y":-1.65},{"x":-4.98,"y":-1.78},{"x":-3.58,"y":-1.84},{"x":-4.9,"y":-1.97},{"x":-4.53,"y":-1.97},{"x":-4.15,"y":-1.97},{"x":-3.93,"y":-2},{"x":-3.7,"y":-2.05},{"x":-5.05,"y":-2.14},{"x":-7.6,"y":-2.11},{"x":-5.98,"y":-2.25},{"x":0.87,"y":-1.92},{"x":1.12,"y":-2.03},{"x":0.69,"y":-2.14},{"x":0.25,"y":-2.28},{"x":0.49,"y":-2.35},{"x":1.27,"y":-2.37}],
"l3":[{"x":-5.4,"y":-3.01},{"x":4.59,"y":2.55}],
"p4":[{"x":0.9,"y":2.95},{"x":1.2,"y":2.95},{"x":1.4,"y":2.95},{"x":1.9,"y":2.93},{"x":2.3,"y":2.95},{"x":3.95,"y":3},{"x":4.05,"y":2.95},{"x":0.8,"y":2.75},{"x":1.1,"y":2.8},{"x":1.5,"y":2.85},{"x":2,"y":2.8},{"x":2.6,"y":2.8},{"x":3,"y":2.85},{"x":3.3,"y":2.85},{"x":3.7,"y":2.8},{"x":4.2,"y":2.8},{"x":4.7,"y":2.7},{"x":4.85,"y":2.65},{"x":5,"y":2.5},{"x":4.4,"y":2.65},{"x":4.3,"y":2.5},{"x":4.2,"y":2.4},{"x":0.6,"y":2.55},{"x":1,"y":2.6},{"x":1.3,"y":2.65},{"x":1.7,"y":2.65},{"x":2,"y":2.65},{"x":2.3,"y":2.7},{"x":2.6,"y":2.65},{"x":2.9,"y":2.7},{"x":3.2,"y":2.65},{"x":3.55,"y":2.6},{"x":3.8,"y":2.65},{"x":4.1,"y":2.6},{"x":0.3,"y":2.35},{"x":0.6,"y":2.4},{"x":0.9,"y":2.45},{"x":1.2,"y":2.45},{"x":1.5,"y":2.5},{"x":1.75,"y":2.5},{"x":2.05,"y":2.5},{"x":2.3,"y":2.55},{"x":2.55,"y":2.5},{"x":2.85,"y":2.55},{"x":3.1,"y":2.5},{"x":3.4,"y":2.45},{"x":3.65,"y":2.5},{"x":3.95,"y":2.45},{"x":0.05,"y":2.2},{"x":-0.05,"y":2.05},{"x":0.35,"y":2.2},{"x":0.6,"y":2.25},{"x":0.85,"y":2.3},{"x":1.1,"y":2.3},{"x":1.35,"y":2.35},{"x":1.6,"y":2.35},{"x":1.85,"y":2.35},{"x":2.1,"y":2.4},{"x":2.35,"y":2.4},{"x":2.6,"y":2.35},{"x":2.85,"y":2.4},{"x":3.1,"y":2.35},{"x":3.4,"y":2.3},{"x":3.7,"y":2.3},{"x":4.1,"y":2.2},{"x":4.35,"y":2.15},{"x":0.15,"y":2.05},{"x":0.45,"y":2.1},{"x":0.7,"y":2.15},{"x":0.95,"y":2.15},{"x":1.2,"y":2.2},{"x":1.45,"y":2.2},{"x":1.7,"y":2.2},{"x":1.95,"y":2.25},{"x":2.2,"y":2.25},{"x":2.45,"y":2.25},{"x":2.7,"y":2.25},{"x":2.95,"y":2.2},{"x":3.25,"y":2.15},{"x":3.5,"y":2.15},{"x":3.85,"y":2.1},{"x":-0.05,"y":1.8},{"x":0.25,"y":1.85},{"x":0.55,"y":1.95},{"x":0.85,"y":2},{"x":1.1,"y":2.05},{"x":1.35,"y":2.05},{"x":1.6,"y":2.05},{"x":1.85,"y":2.1},{"x":2.1,"y":2.1},{"x":2.35,"y":2.1},{"x":2.6,"y":2.1},{"x":2.85,"y":2.05},{"x":3.1,"y":2},{"x":3.4,"y":2},{"x":3.65,"y":2},{"x":3.9,"y":1.95},{"x":4.2,"y":1.9},{"x":0.2,"y":1.65},{"x":0.95,"y":1.85},{"x":1.25,"y":1.9},{"x":1.5,"y":1.9},{"x":1.75,"y":1.95},{"x":2,"y":1.95},{"x":2.25,"y":1.95},{"x":2.5,"y":1.95},{"x":2.75,"y":1.9},{"x":3.05,"y":1.85},{"x":3.35,"y":1.85},{"x":3.6,"y":1.85},{"x":3.9,"y":1.82},{"x":4.75,"y":1.8},{"x":1,"y":1.65},{"x":1.4,"y":1.75},{"x":1.7,"y":1.75},{"x":1.95,"y":1.7},{"x":2.15,"y":1.75},{"x":2.45,"y":1.8},{"x":2.7,"y":1.6},{"x":2.95,"y":1.65},{"x":3,"y":1.55},{"x":1.1,"y":1.45},{"x":1.45,"y":1.5},{"x":1.85,"y":1.55},{"x":2.15,"y":1.6},{"x":2.45,"y":1.7},{"x":2.8,"y":1.52},{"x":2.05,"y":1.35},{"x":2.2,"y":1.3},{"x":1.2,"y":1.22},{"x":-0.8,"y":1.22},{"x":2.3,"y":1.22},{"x":2.85,"y":0.95},{"x":3,"y":0.95},{"x":3.25,"y":0.95},{"x":-0.55,"y":0.83},{"x":-0.4,"y":0.7},{"x":-0.25,"y":0.7},{"x":0.45,"y":0.7},{"x":0.9,"y":0.65},{"x":0.95,"y":0.72},{"x":-1.15,"y":0.62},{"x":-0.6,"y":0.15},{"x":-0.1,"y":0.15},{"x":0.05,"y":0.15},{"x":0.4,"y":0.15},{"x":0.95,"y":0.15},{"x":1.05,"y":0.15},{"x":1.3,"y":0.1},{"x":1.45,"y":0.15},{"x":-1.4,"y":-0.1},{"x":-0.6,"y":-0.1},{"x":-0.25,"y":-0.1},{"x":-0.85,"y":-0.05},{"x":0.8,"y":-0.18},{"x":0.2,"y":-0.3},{"x":0.4,"y":-0.3},{"x":-0.4,"y":-0.3},{"x":1.05,"y":-0.38},{"x":1.8,"y":-0.43},{"x":-2.6,"y":-0.35},{"x":-2.4,"y":-0.42},{"x":-2.2,"y":-0.4},{"x":-2,"y":-0.45},{"x":-1.8,"y":-0.42},{"x":-1.5,"y":-0.42},{"x":-0.7,"y":-0.5},{"x":0.05,"y":-0.55},{"x":-2.75,"y":-0.55},{"x":-2.5,"y":-0.6},{"x":-2.25,"y":-0.55},{"x":-2,"y":-0.58},{"x":-1.75,"y":-0.55},{"x":-1.5,"y":-0.58},{"x":-1.2,"y":-0.55},{"x":-0.95,"y":-0.6},{"x":-0.35,"y":-0.6},{"x":0.1,"y":-0.65},{"x":-2.65,"y":-0.7},{"x":-2.4,"y":-0.7},{"x":-2.15,"y":-0.72},{"x":-1.9,"y":-0.7},{"x":-1.65,"y":-0.72},{"x":-1.4,"y":-0.68},{"x":-1.15,"y":-0.7},{"x":-0.9,"y":-0.74},{"x":-0.55,"y":-0.72},{"x":0.25,"y":-0.75},{"x":-2.95,"y":-0.85},{"x":-2.6,"y":-0.82},{"x":-2.35,"y":-0.85},{"x":-2.1,"y":-0.83},{"x":-1.85,"y":-0.85},{"x":-1.6,"y":-0.82},{"x":-1.35,"y":-0.85},{"x":-1.1,"y":-0.82},{"x":-0.8,"y":-0.85},{"x":-0.55,"y":-0.85},{"x":-0.25,"y":-0.83},{"x":0.05,"y":-0.85},{"x":0.35,"y":-0.82},{"x":0.8,"y":-0.78},{"x":0.9,"y":-0.88},{"x":-2.7,"y":-0.95},{"x":-2.45,"y":-0.97},{"x":-2.2,"y":-0.95},{"x":-1.9,"y":-0.97},{"x":-1.65,"y":-0.95},{"x":-1.35,"y":-0.97},{"x":-1.05,"y":-0.95},{"x":-0.75,"y":-0.95},{"x":-0.45,"y":-0.95},{"x":-0.15,"y":-0.97},{"x":0.2,"y":-0.95},{"x":0.5,"y":-0.97},{"x":0.8,"y":-0.97},{"x":-3.05,"y":-1},{"x":-2.45,"y":-1.08},{"x":-1.75,"y":-1.08},{"x":-1.4,"y":-1.07},{"x":-1.15,"y":-1.08},{"x":-0.85,"y":-1.07},{"x":-0.6,"y":-1.06},{"x":-0.3,"y":-1.06},{"x":0.05,"y":-1.08},{"x":0.3,"y":-1.07},{"x":0.6,"y":-1.07},{"x":-3,"y":-1.15},{"x":-2.75,"y":-1.12},{"x":-1.55,"y":-1.18},{"x":-1.25,"y":-1.2},{"x":-0.1,"y":-1.2},{"x":0.3,"y":-1.22},{"x":0.8,"y":-1.35},{"x":-3.45,"y":-1.25},{"x":-2.7,"y":-1.3},{"x":-2.15,"y":-1.32},{"x":-2.05,"y":-1.38},{"x":-1.55,"y":-1.35},{"x":-1.3,"y":-1.45},{"x":-1.15,"y":-1.4},{"x":-0.75,"y":-1.5},{"x":-0.85,"y":-1.5},{"x":-0.1,"y":-1.55},{"x":-4.3,"y":-1.55},{"x":-3.6,"y":-1.55},{"x":-2.7,"y":-1.5},{"x":-2.65,"y":-1.6},{"x":-3,"y":-1.65},{"x":-0.1,"y":-1.68},{"x":-3.3,"y":-1.8},{"x":-3.2,"y":-1.85},{"x":-3,"y":-1.8},{"x":-2.8,"y":-1.75},{"x":-2.55,"y":-1.85},{"x":-2.3,"y":-1.8},{"x":-2.1,"y":-1.75},{"x":-1.9,"y":-1.8},{"x":-1.7,"y":-1.7},{"x":-1.5,"y":-1.75},{"x":-1.25,"y":-1.7},{"x":-1.05,"y":-1.72},{"x":-0.85,"y":-1.8},{"x":-0.55,"y":-1.75},{"x":-0.45,"y":-1.85},{"x":-3.9,"y":-1.97},{"x":-3.75,"y":-1.92},{"x":-3.35,"y":-1.9},{"x":-2.8,"y":-1.9},{"x":-2.55,"y":-1.95},{"x":-2.3,"y":-1.95},{"x":-2.1,"y":-1.95},{"x":-1.85,"y":-1.92},{"x":-1.65,"y":-1.95},{"x":-1.45,"y":-1.9},{"x":-1.25,"y":-1.85},{"x":-1.05,"y":-1.85},{"x":-2.6,"y":-2.05},{"x":-2.35,"y":-2.1},{"x":-2.15,"y":-2.05},{"x":-1.95,"y":-2.1},{"x":-1.7,"y":-2.05},{"x":-1.5,"y":-2.1},{"x":-1.3,"y":-2},{"x":-1.15,"y":-2.15},{"x":-0.4,"y":-2.1},{"x":-4.67,"y":-4.4},{"x":-4.99,"y":-4.74},{"x":-5.08,"y":-4.91},{"x":-4.94,"y":-5},{"x":-5.22,"y":-5.09},{"x":-5.36,"y":-5.18},{"x":-5.01,"y":-5.23},{"x":-4.74,"y":-5.26},{"x":-4.53,"y":-5.23},{"x":-4.18,"y":-4.95},{"x":-4.32,"y":-5.02},{"x":-4.11,"y":-5.14},{"x":-3.97,"y":-5.18},{"x":-5.15,"y":-5.5},{"x":-4.85,"y":-5.41},{"x":-4.46,"y":-5.55},{"x":-4.99,"y":-5.75},{"x":-3.48,"y":-5.14},{"x":-4.8,"y":-5.62},{"x":1.55,"y":2.3},{"x":1.3,"y":2.15},{"x":1.6,"y":2.1},{"x":2.2,"y":2.3},{"x":2.5,"y":2.4},{"x":2.75,"y":2.35},{"x":2.95,"y":2.3},{"x":2.25,"y":2.15},{"x":2.5,"y":2.15},{"x":2.8,"y":2.15},{"x":3.05,"y":2.2},{"x":1.9,"y":2},{"x":2.15,"y":2},{"x":2.4,"y":2},{"x":2.65,"y":2},{"x":2.9,"y":1.95},{"x":3.2,"y":1.95},{"x":1.6,"y":1.8},{"x":1.85,"y":1.8},{"x":2.3,"y":1.85},{"x":2.6,"y":1.8},{"x":2.85,"y":1.75},{"x":3.2,"y":1.75},{"x":3.45,"y":1.75},{"x":3.8,"y":1.75},{"x":1.05,"y":1.95},{"x":0.65,"y":2},{"x":1.4,"y":2.5},{"x":1.9,"y":2.6},{"x":2.5,"y":2.6},{"x":3,"y":2.6},{"x":3.3,"y":2.55},{"x":3.8,"y":2.4},{"x":4.45,"y":2.35},{"x":-2,"y":-0.78},{"x":-1.75,"y":-0.78},{"x":-1.5,"y":-0.75},{"x":-1.25,"y":-0.78},{"x":-1.05,"y":-0.88},{"x":-1.45,"y":-0.9},{"x":-1.75,"y":-0.9},{"x":-2,"y":-0.9},{"x":-1.2,"y":-1},{"x":-0.9,"y":-1},{"x":-0.6,"y":-0.9},{"x":-0.3,"y":-0.9},{"x":-0.05,"y":-0.92},{"x":0.3,"y":-0.9},{"x":0.6,"y":-0.9},{"x":0.45,"y":-1.02},{"x":0.15,"y":-1.02},{"x":-0.15,"y":-1.02},{"x":-0.45,"y":-1.02},{"x":-0.7,"y":-1.02},{"x":-1.6,"y":-0.65},{"x":-1.9,"y":-0.62},{"x":-2.15,"y":-0.62},{"x":-1.05,"y":-0.62},{"x":-1.3,"y":-0.6},{"x":-2.35,"y":-0.75},{"x":-1.95,"y":-1.8},{"x":-1.6,"y":-1.82},{"x":-1.35,"y":-1.9},{"x":-2.1,"y":-1.85},{"x":-1.75,"y":-1.95}],
"d4":[{"x":6.38,"y":2.71},{"x":-1.88,"y":2.18},{"x":-1.48,"y":2.13},{"x":-0.79,"y":2.11},{"x":-0.65,"y":1.94},{"x":-0.79,"y":1.74},{"x":-0.77,"y":1.63},{"x":-3.23,"y":1.72},{"x":-2.76,"y":1.72},{"x":2.97,"y":0.11},{"x":4.04,"y":0.16},{"x":-4.75,"y":-0.4},{"x":1.32,"y":-1.12},{"x":1.39,"y":-1.12},{"x":-6.41,"y":-3.92},{"x":-5.53,"y":-4.39},{"x":-1.11,"y":-5.05},{"x":-8.54,"y":-5.09},{"x":-7.59,"y":-4.98},{"x":-7.31,"y":-4.98},{"x":-6.92,"y":-4.98},{"x":-6.55,"y":-4.98},{"x":-6.2,"y":-4.98},{"x":-5.85,"y":-4.98},{"x":-5.54,"y":-4.98},{"x":-7.73,"y":-5.09},{"x":-7.45,"y":-5.09},{"x":-7.1,"y":-5.09},{"x":-6.75,"y":-5.09},{"x":-6.41,"y":-5.09},{"x":-6.06,"y":-5.09},{"x":-5.74,"y":-5.09},{"x":-7.52,"y":-5.28},{"x":-7.17,"y":-5.28},{"x":-6.82,"y":-5.28},{"x":-6.48,"y":-5.28},{"x":-6.2,"y":-5.28},{"x":-7.42,"y":-5.39},{"x":-6.55,"y":-5.39},{"x":-6.34,"y":-5.39},{"x":-2.79,"y":-5.09},{"x":-2.86,"y":-5.23},{"x":-3.13,"y":-5.28},{"x":-3.48,"y":-5.39}],
"l4":[{"x":-7.49,"y":-6.08},{"x":4.04,"y":3.3}],
"zero":[{"v":0}],
"near":[{"v":0.03}]
},
"hconcat":[
{"bounds":"flush","spacing":90,"vconcat":[
{"width":384,"height":341,"title":{"text":"Original","dx":-16,"offset":5},"layer":[
{"data":{"name":"zero"},"mark":{"type":"rule","stroke":"#222","strokeWidth":1.2,"strokeDash":[5,3]},"encoding":{"x":{"field":"v","type":"quantitative","scale":{"domain":[-6.77,9.84],"nice":false,"zero":false}}}},
{"data":{"name":"zero"},"mark":{"type":"rule","stroke":"#222","strokeWidth":1.2,"strokeDash":[5,3]},"encoding":{"y":{"field":"v","type":"quantitative","scale":{"domain":[-1.44,3.72],"nice":false,"zero":false}}}},
{"data":{"name":"l1"},"mark":{"type":"line","stroke":"#333","strokeWidth":1},"encoding":{"x":{"field":"x","type":"quantitative","scale":{"domain":[-6.77,9.84],"nice":false,"zero":false},"axis":{"title":null,"format":"d","values":[-5,0,5],"labelPadding":13}},"y":{"field":"y","type":"quantitative","scale":{"domain":[-1.44,3.72],"nice":false,"zero":false},"axis":{"title":"Clarified principal component","titleX":-57,"titleY":376,"format":"d","values":[-1,0,1,2,3],"labelAngle":-90,"labelPadding":10,"labelAlign":"center","labelBaseline":"bottom"}}}},
{"data":{"name":"p1"},"mark":{"type":"point","filled":true,"shape":"circle","size":27,"fill":"#4f2390","stroke":"#1c1030","strokeWidth":0.8,"opacity":1},"encoding":{"x":{"field":"x","type":"quantitative","scale":{"domain":[-6.77,9.84],"nice":false,"zero":false}},"y":{"field":"y","type":"quantitative","scale":{"domain":[-1.44,3.72],"nice":false,"zero":false}}}},
{"data":{"name":"d1"},"mark":{"type":"point","filled":true,"shape":"diamond","size":120,"fill":"#151515","opacity":1},"encoding":{"x":{"field":"x","type":"quantitative","scale":{"domain":[-6.77,9.84],"nice":false,"zero":false}},"y":{"field":"y","type":"quantitative","scale":{"domain":[-1.44,3.72],"nice":false,"zero":false}}}}
]},
{"width":385,"height":343,"title":{"text":"Generation 40","dx":-15,"offset":10},"layer":[
{"data":{"name":"zero"},"mark":{"type":"rule","stroke":"#222","strokeWidth":1.2,"strokeDash":[5,3]},"encoding":{"x":{"field":"v","type":"quantitative","scale":{"domain":[-8.24,9.09],"nice":false,"zero":false}}}},
{"data":{"name":"zero"},"mark":{"type":"rule","stroke":"#222","strokeWidth":1.2,"strokeDash":[5,3]},"encoding":{"y":{"field":"v","type":"quantitative","scale":{"domain":[-3.01,2.55],"nice":false,"zero":false}}}},
{"data":{"name":"l3"},"mark":{"type":"line","stroke":"#333","strokeWidth":1},"encoding":{"x":{"field":"x","type":"quantitative","scale":{"domain":[-8.24,9.09],"nice":false,"zero":false},"axis":{"title":null,"format":"d","values":[-5,0,5],"labelPadding":13}},"y":{"field":"y","type":"quantitative","scale":{"domain":[-3.01,2.55],"nice":false,"zero":false},"axis":{"title":null,"format":"d","values":[-2,-1,0,1,2],"labelAngle":-90,"labelPadding":10,"labelAlign":"center","labelBaseline":"bottom"}}}},
{"data":{"name":"p3"},"mark":{"type":"point","filled":true,"shape":"circle","size":27,"fill":"#4f2390","stroke":"#1c1030","strokeWidth":0.8,"opacity":1},"encoding":{"x":{"field":"x","type":"quantitative","scale":{"domain":[-8.24,9.09],"nice":false,"zero":false}},"y":{"field":"y","type":"quantitative","scale":{"domain":[-3.01,2.55],"nice":false,"zero":false}}}},
{"data":{"name":"d3"},"mark":{"type":"point","filled":true,"shape":"diamond","size":120,"fill":"#151515","opacity":1},"encoding":{"x":{"field":"x","type":"quantitative","scale":{"domain":[-8.24,9.09],"nice":false,"zero":false}},"y":{"field":"y","type":"quantitative","scale":{"domain":[-3.01,2.55],"nice":false,"zero":false}}}}
]}
]},
{"bounds":"flush","spacing":95,"vconcat":[
{"width":385,"height":341,"title":{"text":"Generation 5","dx":1,"offset":5},"layer":[
{"data":{"name":"zero"},"mark":{"type":"rule","stroke":"#222","strokeWidth":1.2,"strokeDash":[5,3]},"encoding":{"x":{"field":"v","type":"quantitative","scale":{"domain":[-9.56,13.54],"nice":false,"zero":false}}}},
{"data":{"name":"zero"},"mark":{"type":"rule","stroke":"#222","strokeWidth":1.2,"strokeDash":[5,3]},"encoding":{"y":{"field":"v","type":"quantitative","scale":{"domain":[-1.486,1.81],"nice":false,"zero":false}}}},
{"data":{"name":"l2"},"mark":{"type":"line","stroke":"#333","strokeWidth":1},"encoding":{"x":{"field":"x","type":"quantitative","scale":{"domain":[-9.56,13.54],"nice":false,"zero":false},"axis":{"title":null,"format":"d","values":[-5,0,5,10],"labelPadding":13}},"y":{"field":"y","type":"quantitative","scale":{"domain":[-1.486,1.81],"nice":false,"zero":false},"axis":{"title":null,"values":[-1,-0.5,0,0.5,1,1.5],"format":".1f","labelAngle":-90,"labelPadding":10,"labelAlign":"center","labelBaseline":"bottom"}}}},
{"data":{"name":"p2"},"mark":{"type":"point","filled":true,"shape":"circle","size":27,"fill":"#4f2390","stroke":"#1c1030","strokeWidth":0.8,"opacity":1},"encoding":{"x":{"field":"x","type":"quantitative","scale":{"domain":[-9.56,13.54],"nice":false,"zero":false}},"y":{"field":"y","type":"quantitative","scale":{"domain":[-1.486,1.81],"nice":false,"zero":false}}}},
{"data":{"name":"d2"},"mark":{"type":"point","filled":true,"shape":"diamond","size":120,"fill":"#151515","opacity":1},"encoding":{"x":{"field":"x","type":"quantitative","scale":{"domain":[-9.56,13.54],"nice":false,"zero":false}},"y":{"field":"y","type":"quantitative","scale":{"domain":[-1.486,1.81],"nice":false,"zero":false}}}}
]},
{"width":385,"height":341,"title":{"text":"Generation 200","dx":1,"offset":5},"layer":[
{"data":{"name":"zero"},"mark":{"type":"rule","stroke":"#222","strokeWidth":1.2,"strokeDash":[5,3]},"encoding":{"x":{"field":"v","type":"quantitative","scale":{"domain":[-9.12,6.96],"nice":false,"zero":false}}}},
{"data":{"name":"near"},"mark":{"type":"rule","stroke":"#222","strokeWidth":1.2,"strokeDash":[5,3]},"encoding":{"y":{"field":"v","type":"quantitative","scale":{"domain":[-6.08,3.3],"nice":false,"zero":false}}}},
{"data":{"name":"l4"},"mark":{"type":"line","stroke":"#333","strokeWidth":1},"encoding":{"x":{"field":"x","type":"quantitative","scale":{"domain":[-9.12,6.96],"nice":false,"zero":false},"axis":{"title":null,"format":"d","values":[-5,0,5],"labelPadding":13}},"y":{"field":"y","type":"quantitative","scale":{"domain":[-6.08,3.3],"nice":false,"zero":false},"axis":{"title":null,"format":"d","values":[-6,-4,-2,0,2],"labelAngle":-90,"labelPadding":10,"labelAlign":"center","labelBaseline":"bottom"}}}},
{"data":{"name":"p4"},"mark":{"type":"point","filled":true,"shape":"circle","size":27,"fill":"#4f2390","stroke":"#1c1030","strokeWidth":0.8,"opacity":1},"encoding":{"x":{"field":"x","type":"quantitative","scale":{"domain":[-9.12,6.96],"nice":false,"zero":false}},"y":{"field":"y","type":"quantitative","scale":{"domain":[-6.08,3.3],"nice":false,"zero":false}}}},
{"data":{"name":"d4"},"mark":{"type":"point","filled":true,"shape":"diamond","size":120,"fill":"#151515","opacity":1},"encoding":{"x":{"field":"x","type":"quantitative","scale":{"domain":[-9.12,6.96],"nice":false,"zero":false}},"y":{"field":"y","type":"quantitative","scale":{"domain":[-6.08,3.3],"nice":false,"zero":false}}}}
]}
]}
],"spacing":73}
